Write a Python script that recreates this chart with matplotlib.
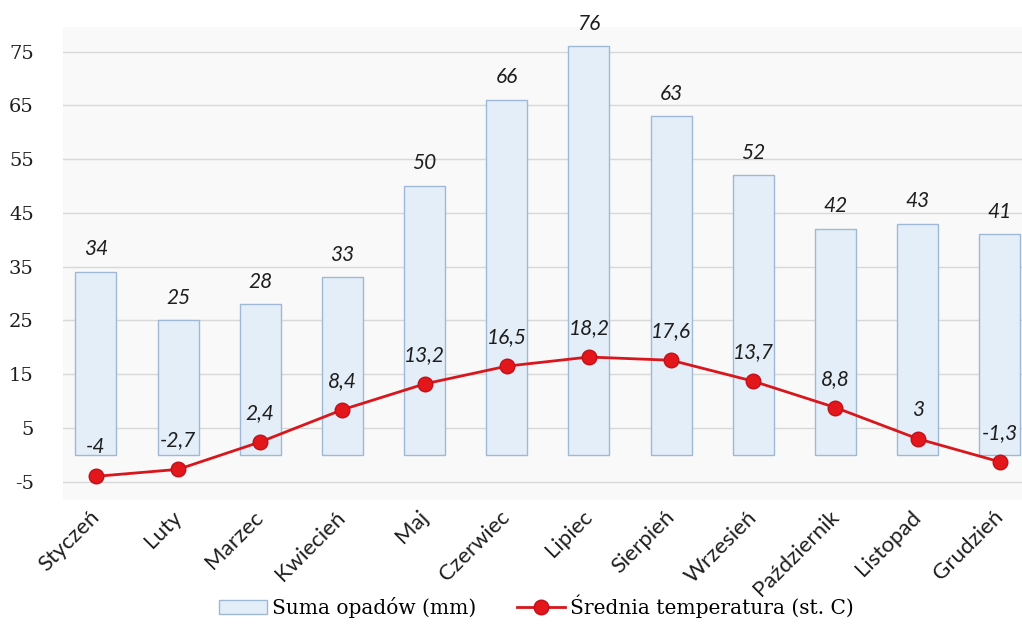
import matplotlib
matplotlib.use("Agg")
import matplotlib.pyplot as plt
from matplotlib.lines import Line2D
from matplotlib.patches import Patch

months = ["Styczeń", "Luty", "Marzec", "Kwiecień", "Maj", "Czerwiec",
          "Lipiec", "Sierpień", "Wrzesień", "Październik", "Listopad", "Grudzień"]
precip_mm = [34, 25, 28, 33, 50, 66, 76, 63, 52, 42, 43, 41]
temp_c = [-4, -2.7, 2.4, 8.4, 13.2, 16.5, 18.2, 17.6, 13.7, 8.8, 3, -1.3]
y_ticks = [-5, 5, 15, 25, 35, 45, 55, 65, 75]

SERIF = ["DejaVu Serif", "DejaVu Sans"]
SANS = ["Lato", "DejaVu Sans"]
plt.rcParams["font.family"] = SERIF

BAR_FILL = "#e4eef8"
BAR_EDGE = "#9fb8d6"
LINE_RED = "#d8161c"
TEXT = "#1e1e1e"


def fmt(v):
    return f"{v:g}".replace(".", ",")


fig = plt.figure(figsize=(10.22, 6.3), dpi=100)
ax = fig.add_axes([63 / 1022, 1 - 500 / 630, 1 - 63 / 1022, (500 - 27) / 630])
ax.set_facecolor("#f9f9f9")

x = list(range(len(months)))
ax.bar(x, precip_mm, width=0.5, color=BAR_FILL, edgecolor=BAR_EDGE,
       linewidth=1.0, zorder=2)
for xi, v in zip(x, precip_mm):
    ax.annotate(str(v), (xi, v), xytext=(0, 12), textcoords="offset points",
                ha="center", va="baseline", fontsize=15, style="italic",
                family=SANS, color=TEXT, annotation_clip=False)

ax.plot(x, temp_c, color=LINE_RED, linewidth=2.0, marker="o", markersize=10.5,
        markerfacecolor="#e3161b", markeredgecolor="#c0101a", zorder=4)
for xi, v in zip(x, temp_c):
    ax.annotate(fmt(v), (xi, v), xytext=(0, 16.5), textcoords="offset points",
                ha="center", va="baseline", fontsize=15, style="italic",
                family=SANS, color=TEXT, zorder=5)

ax.set_xlim(-0.4, 11.27)
ax.set_ylim(-8.4, 79.6)
ax.set_yticks(y_ticks)
ax.set_yticklabels([str(t) for t in y_ticks], fontsize=14, color=TEXT)
ax.set_xticks(x)
ax.set_xticklabels([])
# Month names, rotated 45 degrees and hung just below the plot area
for xi, m in zip(x, months):
    ax.annotate(m, (xi, 0), xycoords=ax.get_xaxis_transform(),
                xytext=(-5, -5), textcoords="offset points",
                rotation=45, rotation_mode="anchor", ha="right", va="top",
                fontsize=16, color=TEXT, family=SANS, annotation_clip=False)
ax.tick_params(axis="y", length=0, pad=21)
ax.tick_params(axis="x", length=0)
ax.grid(axis="y", color="#d8d8d8", linewidth=1.0, zorder=0)
ax.set_axisbelow(True)
for s in ax.spines.values():
    s.set_visible(False)

handles = [
    Patch(facecolor=BAR_FILL, edgecolor=BAR_EDGE, label="Suma opadów (mm)"),
    Line2D([], [], color=LINE_RED, linewidth=2.0, marker="o", markersize=10.5,
           markerfacecolor="#e3161b", markeredgecolor="#c0101a",
           label="Średnia temperatura (st. C)"),
]
fig.legend(handles=handles, loc="lower center", bbox_to_anchor=(0.525, -0.01),
           ncol=2, frameon=False, fontsize=14.5, handlelength=2.4,
           columnspacing=2.0, handletextpad=0.25)

fig.savefig("out.png", dpi=100, facecolor="white")
